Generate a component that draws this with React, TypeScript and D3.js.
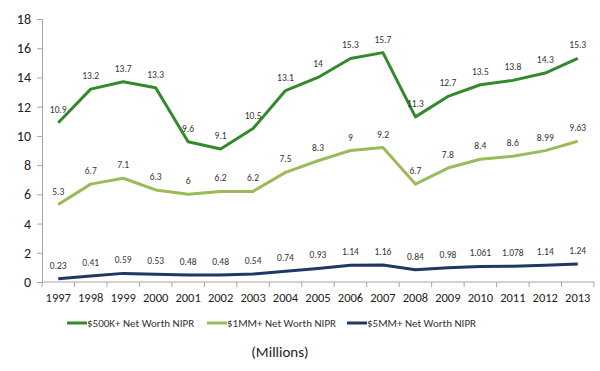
import React, { useRef, useEffect } from 'react';
import * as d3 from 'd3';

const years = ['1997','1998','1999','2000','2001','2002','2003','2004','2005','2006','2007','2008','2009','2010','2011','2012','2013'];
const nw500k = [10.9, 13.2, 13.7, 13.3, 9.6, 9.1, 10.5, 13.1, 14, 15.3, 15.7, 11.3, 12.7, 13.5, 13.8, 14.3, 15.3];
const nw1mm = [5.3, 6.7, 7.1, 6.3, 6, 6.2, 6.2, 7.5, 8.3, 9, 9.2, 6.7, 7.8, 8.4, 8.6, 8.99, 9.63];
const nw5mm = [0.23, 0.41, 0.59, 0.53, 0.48, 0.48, 0.54, 0.74, 0.93, 1.14, 1.16, 0.84, 0.98, 1.061, 1.078, 1.14, 1.24];
const seriesNames = ['$500K+ Net Worth NIPR', '$1MM+ Net Worth NIPR', '$5MM+ Net Worth NIPR'];
const yTicks = [0, 2, 4, 6, 8, 10, 12, 14, 16, 18];

const colors = ['#338a2b', '#9bbb59', '#1f3864'];

const App = () => {
  const svgRef = useRef(null);

  useEffect(() => {
    const svg = d3.select(svgRef.current);
    svg.selectAll('*').remove();
    const font = 'Calibri, Carlito, "Liberation Sans", Arial, sans-serif';

    const x = d3.scaleBand().domain(years).range([42, 594]).padding(0);
    const y = d3.scaleLinear().domain([0, 18]).range([282, 19]);
    const cx = (d) => x(d) + x.bandwidth() / 2;

    // y axis
    const yAxis = svg.append('g').attr('transform', 'translate(42,0)')
      .call(d3.axisLeft(y).tickValues(yTicks).tickSize(5).tickPadding(6));
    yAxis.select('.domain').attr('stroke', '#a6a6a6');
    yAxis.selectAll('line').attr('stroke', '#a6a6a6');
    yAxis.selectAll('text').attr('font-size', 14).attr('font-family', font).attr('fill', '#222');

    // x axis, ticks between categories
    const xg = svg.append('g');
    xg.append('line').attr('x1', 42).attr('x2', 594).attr('y1', 282).attr('y2', 282).attr('stroke', '#a6a6a6');
    const edges = years.map(d => x(d)).concat([x(years[years.length - 1]) + x.bandwidth()]);
    xg.selectAll('.tk').data(edges).join('line')
      .attr('x1', d => d).attr('x2', d => d).attr('y1', 282).attr('y2', 287).attr('stroke', '#a6a6a6');
    xg.selectAll('.lbl').data(years).join('text')
      .attr('x', d => cx(d)).attr('y', 302).attr('text-anchor', 'middle')
      .attr('font-size', 12.5).attr('font-family', font).attr('fill', '#222').text(d => d);

    const all = [nw500k, nw1mm, nw5mm];
    const lineGen = d3.line().x((d, i) => cx(years[i])).y(d => y(d));

    all.forEach((vals, s) => {
      svg.append('path').datum(vals).attr('d', lineGen)
        .attr('fill', 'none').attr('stroke', colors[s]).attr('stroke-width', 3)
        .attr('stroke-linejoin', 'round');
      svg.append('g').selectAll('text').data(vals).join('text')
        .attr('x', (d, i) => cx(years[i]))
        .attr('y', d => y(d) - 10)
        .attr('text-anchor', 'middle')
        .attr('font-size', 9.5).attr('font-family', font).attr('fill', '#333')
        .text(d => String(d));
    });

    // legend
    const legX = [67, 207, 347];
    seriesNames.forEach((name, i) => {
      const g = svg.append('g').attr('transform', `translate(${legX[i]},323)`);
      g.append('line').attr('x1', 0).attr('x2', 20).attr('y1', 0).attr('y2', 0)
        .attr('stroke', colors[i]).attr('stroke-width', 3);
      g.append('text').attr('x', 20).attr('y', 4).attr('font-size', 11)
        .attr('font-family', font).attr('fill', '#333').text(name);
    });

    svg.append('text').attr('x', 280).attr('y', 357).attr('text-anchor', 'middle')
      .attr('font-size', 15).attr('font-family', font).attr('fill', '#222').text('(Millions)');
  }, []);

  return (
    <svg ref={svgRef} width={600} height={371} style={{ position: 'absolute', left: 0, top: 0, background: '#fff' }} />
  );
};

export default App;
